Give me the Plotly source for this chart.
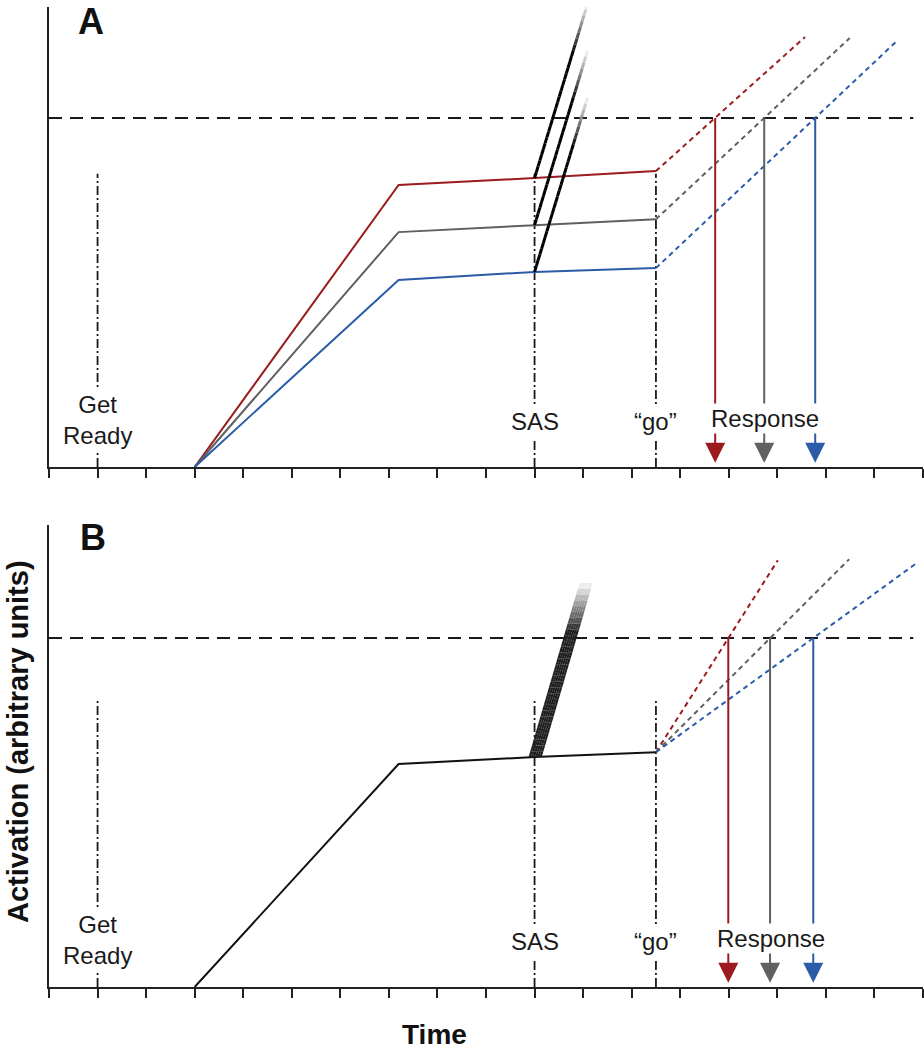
import plotly.graph_objects as go

# ---------------- data ----------------
time_ticks = list(range(0, 19))
event_labels = ["Get<br>Ready", "SAS", "“go”"]
event_times = [1.0, 10.0, 12.5]
ramp_start = 3.0
plateau_start = 7.2
threshold = 10.0
threshold_end = 17.8

cond_colors = ["#9B1B1E", "#606060", "#2A5CA8"]

# Panel A (three preparation levels)
a_plateau = [8.08, 6.73, 5.36]
a_sas = [8.28, 6.93, 5.59]
a_go = [8.48, 7.10, 5.70]
a_proj_end_t = [15.57, 16.49, 17.48]
a_proj_end_y = [12.32, 12.29, 12.23]
a_resp_t = [13.72, 14.73, 15.78]
a_burst_end_t = [11.09, 11.09, 11.09]
a_burst_end_y = [13.27, 11.92, 10.58]

# Panel B (single preparation level)
b_plateau = 6.39
b_sas = 6.59
b_go = 6.73
b_proj_end_t = [15.01, 16.48, 17.90]
b_proj_end_y = [12.23, 12.26, 12.18]
b_resp_t = [13.99, 14.85, 15.74]
b_burst_start_t = [9.90, 9.945, 9.99, 10.035, 10.08, 10.125]
b_burst_end_t = [10.95, 10.995, 11.04, 11.085, 11.13, 11.175]
b_burst_start_y = 6.59
b_burst_end_y = 11.58

event_line_top = [8.4, 8.2]
resp_tip = 0.12
label_y = [1.35, 1.29, 1.29]
resp_label_y = 1.40

FONT = "Liberation Sans, Arial, sans-serif"
INK = "#1a1a1a"

fig = go.Figure()


def add_line(x, y, color, width, dash="solid", xa="x", ya="y"):
    fig.add_trace(go.Scatter(x=x, y=y, mode="lines", xaxis=xa, yaxis=ya,
                             line=dict(color=color, width=width, dash=dash),
                             hoverinfo="skip", showlegend=False))


def add_bursts(starts, ends, width, xa, ya, base=0, n=30, fade_from=0.72):
    for k in range(n):
        t0, t1 = k / n, (k + 1) / n
        mid = (t0 + t1) / 2
        frac = max(0.0, (mid - fade_from) / (1 - fade_from))
        v = int(round(base + (250 - base) * frac))
        xs, ys = [], []
        for (sx, sy), (ex, ey) in zip(starts, ends):
            xs += [sx + (ex - sx) * t0, sx + (ex - sx) * t1, None]
            ys += [sy + (ey - sy) * t0, sy + (ey - sy) * t1, None]
        add_line(xs, ys, f"rgb({v},{v},{v})", width, xa=xa, ya=ya)


panels = [("x", "y"), ("x2", "y2")]

# event dash-dot lines + threshold
for p, (xa, ya) in enumerate(panels):
    for t in event_times:
        add_line([t, t], [0, event_line_top[p]], INK, 1.8, "9px,3px,2px,3px", xa, ya)
    add_line([0, threshold_end], [threshold, threshold], INK, 2, "13px,8px", xa, ya)

# Panel A activation traces
for i in range(3):
    add_line([ramp_start, plateau_start, event_times[1], event_times[2]],
             [0, a_plateau[i], a_sas[i], a_go[i]], cond_colors[i], 2, xa="x", ya="y")
    add_line([event_times[2], a_proj_end_t[i]], [a_go[i], a_proj_end_y[i]],
             cond_colors[i], 2, "5px,4px", "x", "y")

# Panel A SAS bursts
add_bursts([(event_times[1], a_sas[i]) for i in range(3)],
           [(a_burst_end_t[i], a_burst_end_y[i]) for i in range(3)], 3, "x", "y")

# Panel B activation trace
add_line([ramp_start, plateau_start, event_times[1], event_times[2]],
         [0, b_plateau, b_sas, b_go], "#111111", 2, xa="x2", ya="y2")
for i in range(3):
    add_line([event_times[2], b_proj_end_t[i]], [b_go, b_proj_end_y[i]],
             cond_colors[i], 2, "5px,4px", "x2", "y2")

# Panel B SAS burst bundle
add_bursts([(t, b_burst_start_y) for t in b_burst_start_t],
           [(t, b_burst_end_y) for t in b_burst_end_t], 2.2, "x2", "y2", base=30)

# response stems and arrowheads
for (xa, ya), resp in zip(panels, [a_resp_t, b_resp_t]):
    for i in range(3):
        add_line([resp[i], resp[i]], [threshold, resp_tip + 0.4], cond_colors[i], 2, xa=xa, ya=ya)
    fig.add_trace(go.Scatter(x=resp, y=[resp_tip] * 3, mode="markers", xaxis=xa, yaxis=ya,
                             marker=dict(symbol="arrow-down", size=20, color=cond_colors,
                                         line=dict(width=0)),
                             hoverinfo="skip", showlegend=False))

# text labels
ann = []
for xa, ya in panels:
    for t, lab, ly in zip(event_times, event_labels, label_y):
        ann.append(dict(x=t, y=ly, xref=xa, yref=ya, text=lab, showarrow=False,
                        xanchor="center", yanchor="middle",
                        font=dict(family=FONT, size=24, color=INK), bgcolor="white",
                        borderpad=3, align="center"))
    resp = a_resp_t if xa == "x" else b_resp_t
    ann.append(dict(x=(resp[0] + resp[2]) / 2, y=resp_label_y, xref=xa, yref=ya,
                    text="Response", showarrow=False, xanchor="center", yanchor="middle",
                    font=dict(family=FONT, size=24, color=INK), bgcolor="white",
                    borderpad=1))

# paper coords: plot area spans page x 49..923 and page y 7..987
ann.append(dict(x=0.048, y=0.9847, xref="paper", yref="paper", text="<b>A</b>",
                xanchor="center", yanchor="middle",
                showarrow=False, font=dict(family=FONT, size=36, color="#111")))
ann.append(dict(x=0.050, y=0.4582, xref="paper", yref="paper", text="<b>B</b>",
                xanchor="center", yanchor="middle",
                showarrow=False, font=dict(family=FONT, size=36, color="#111")))
ann.append(dict(x=-0.0355, y=0.251, xref="paper", yref="paper",
                text="<b>Activation (arbitrary units)</b>", textangle=-90,
                xanchor="center", yanchor="middle",
                showarrow=False, font=dict(family=FONT, size=29, color="#111")))
ann.append(dict(x=0.4416, y=-0.0480, xref="paper", yref="paper", text="<b>Time</b>",
                xanchor="center", yanchor="middle",
                showarrow=False, font=dict(family=FONT, size=28, color="#111")))

xcommon = dict(range=[0, 18], showline=True, linewidth=2, linecolor="#222",
               ticks="outside", ticklen=9, tickwidth=2, tickcolor="#222",
               tickvals=time_ticks, showticklabels=False, showgrid=False, zeroline=False)
ycommon = dict(showline=True, linewidth=2, linecolor="#222", ticks="",
               showticklabels=False, showgrid=False, zeroline=False)

fig.update_layout(
    width=924, height=1050,
    margin=dict(l=49, r=1, t=7, b=63, autoexpand=False),
    paper_bgcolor="white", plot_bgcolor="white",
    xaxis=dict(**xcommon, anchor="y"),
    yaxis=dict(**ycommon, range=[0, 13.18], domain=[0.5306, 1.0], anchor="x"),
    xaxis2=dict(**xcommon, anchor="y2"),
    yaxis2=dict(**ycommon, range=[0, 13.24], domain=[0.0, 0.4714], anchor="x2"),
    annotations=ann,
    showlegend=False,
)

fig.write_html("out.html",
               config={"displayModeBar": False},
               post_script="document.body.style.margin='0';document.body.style.overflow='hidden';")
